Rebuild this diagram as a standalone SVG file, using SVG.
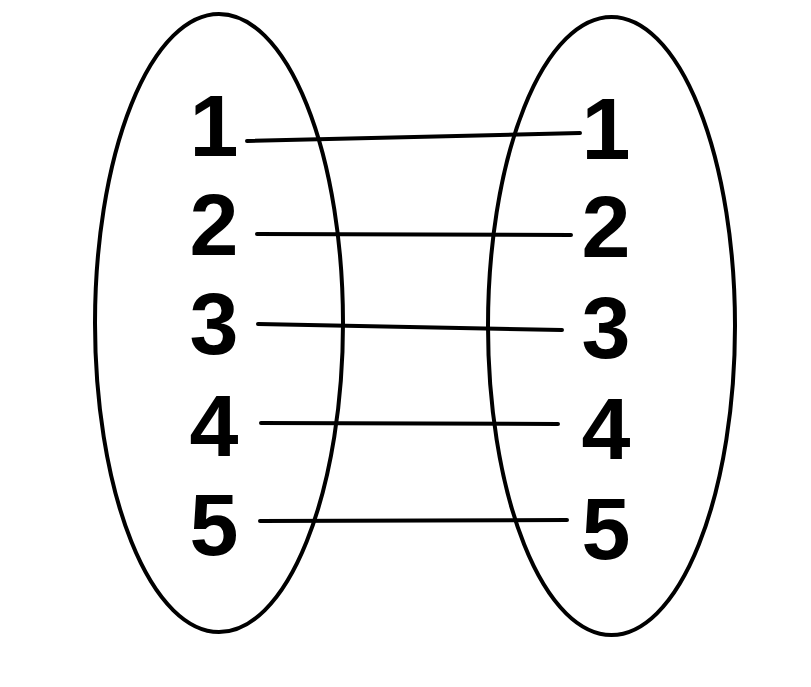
<svg xmlns="http://www.w3.org/2000/svg" width="811" height="687" viewBox="0 0 811 687">
<style>
.set{fill:none;stroke:#000;stroke-width:4}
.num{font-family:"Liberation Sans",Arial,sans-serif;font-weight:bold;font-size:88px;fill:#000;text-anchor:middle}
.conn line{stroke:#000;stroke-width:4;stroke-linecap:round}
</style>
<rect width="811" height="687" fill="#fff"/>
<g id="set-left">
<ellipse class="set" cx="219" cy="323" rx="124" ry="309"/>
<text class="num" x="214" y="156">1</text>
<text class="num" x="214" y="255">2</text>
<text class="num" x="214" y="354">3</text>
<text class="num" x="214" y="456">4</text>
<text class="num" x="214" y="555">5</text>
</g>
<g id="set-right">
<ellipse class="set" cx="611.5" cy="326" rx="123.5" ry="309"/>
<text class="num" x="606" y="159">1</text>
<text class="num" x="606" y="257">2</text>
<text class="num" x="606" y="358">3</text>
<text class="num" x="606" y="459">4</text>
<text class="num" x="606" y="559">5</text>
</g>
<g id="connectors" class="conn">
<line x1="247" y1="141" x2="580" y2="133"/>
<line x1="257" y1="234" x2="571" y2="235"/>
<line x1="258" y1="324" x2="562" y2="330"/>
<line x1="261" y1="423" x2="558" y2="424"/>
<line x1="260" y1="521" x2="567" y2="520"/>
</g>
</svg>
